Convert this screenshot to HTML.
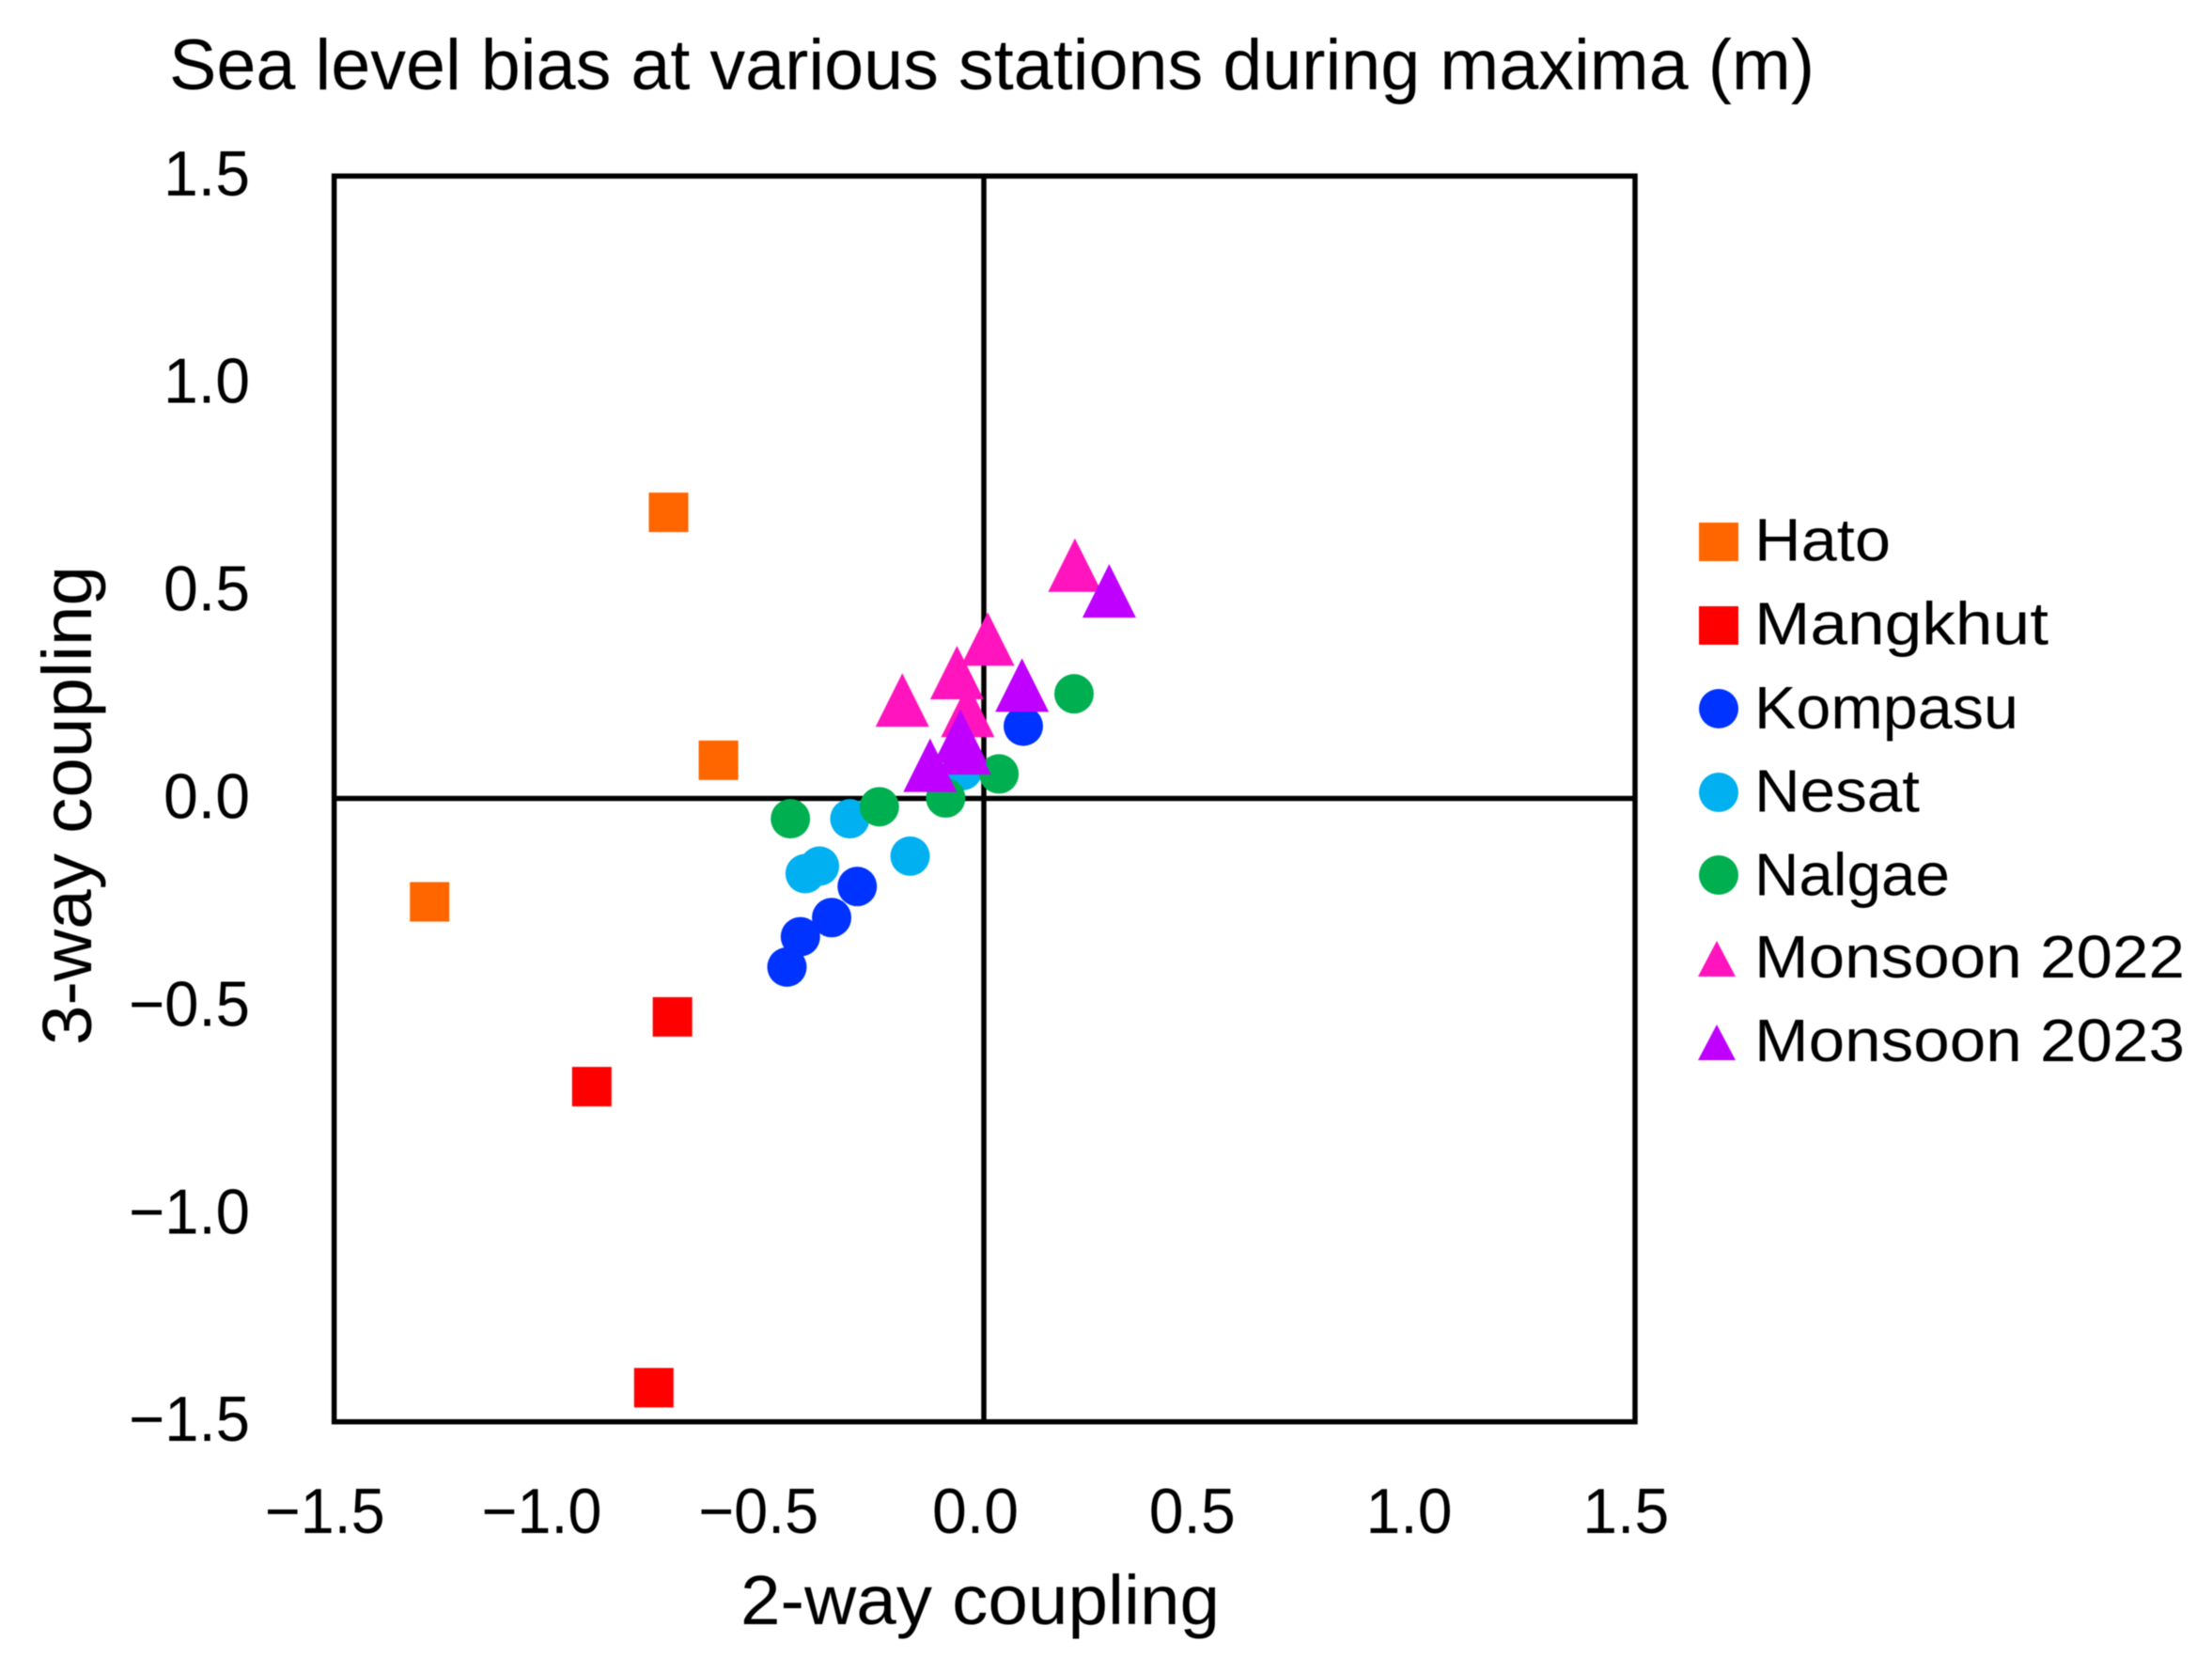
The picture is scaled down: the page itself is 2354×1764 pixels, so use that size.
<!DOCTYPE html>
<html lang="en">
<head>
<meta charset="utf-8">
<title>Sea level bias at various stations during maxima (m)</title>
<style>
  html, body { margin: 0; padding: 0; background: #ffffff; }
  svg { display: block; filter: blur(0.6px); }
  text { font-family: "Liberation Sans", sans-serif; fill: #000000; }
</style>
</head>
<body>
<svg id="chart" xmlns="http://www.w3.org/2000/svg" width="2354" height="1764" viewBox="0 0 2354 1764">
  <rect x="0" y="0" width="2354" height="1764" fill="#ffffff"/>
  <text x="180" y="95" font-size="76" textLength="1751" lengthAdjust="spacingAndGlyphs">Sea level bias at various stations during maxima (m)</text>

  <line x1="356" y1="849.5" x2="1740" y2="849.5" stroke="#000" stroke-width="5.5"/>
  <line x1="1047" y1="187" x2="1047" y2="1513" stroke="#000" stroke-width="5.5"/>
  <rect x="355.6" y="187.3" width="1384.4" height="1325.4" fill="none" stroke="#000" stroke-width="5.5"/>

  <g id="x-ticks"></g>
  <g id="y-ticks"></g>
  <g id="marks"></g>

  <text x="788" y="1728" font-size="74" textLength="510" lengthAdjust="spacingAndGlyphs">2-way coupling</text>
  <text transform="translate(97 1112) rotate(-90)" x="0" y="0" font-size="74" textLength="510" lengthAdjust="spacingAndGlyphs">3-way coupling</text>

  <g>
    <g>
      <rect x="1808" y="556" width="42" height="41" fill="#FF6600"/>
      <text x="1867" y="596.7" font-size="64" textLength="145" lengthAdjust="spacingAndGlyphs">Hato</text>
    </g>
    <g>
      <rect x="1808" y="645" width="42" height="41" fill="#FF0000"/>
      <text x="1867" y="685.3" font-size="64" textLength="313" lengthAdjust="spacingAndGlyphs">Mangkhut</text>
    </g>
    <g>
      <ellipse cx="1829" cy="754" rx="21" ry="21" fill="#0033FF"/>
      <text x="1867" y="775" font-size="64" textLength="281" lengthAdjust="spacingAndGlyphs">Kompasu</text>
    </g>
    <g>
      <ellipse cx="1829" cy="843" rx="21" ry="21" fill="#00B0F0"/>
      <text x="1867" y="863.7" font-size="64" textLength="176" lengthAdjust="spacingAndGlyphs">Nesat</text>
    </g>
    <g>
      <ellipse cx="1829" cy="931" rx="21" ry="21" fill="#00B050"/>
      <text x="1867" y="952.7" font-size="64" textLength="208" lengthAdjust="spacingAndGlyphs">Nalgae</text>
    </g>
    <g>
      <polygon points="1827,1001 1847,1039 1807,1039" fill="#FF14BE"/>
      <text x="1867" y="1040" font-size="64" textLength="458" lengthAdjust="spacingAndGlyphs">Monsoon 2022</text>
    </g>
    <g>
      <polygon points="1827,1090 1847,1128 1807,1128" fill="#BF00FF"/>
      <text x="1867" y="1129" font-size="64" textLength="458" lengthAdjust="spacingAndGlyphs">Monsoon 2023</text>
    </g>
  </g>
</svg>

<script>
const tickValues = [-1.5, -1.0, -0.5, 0.0, 0.5, 1.0, 1.5];
const tickLabels = ["\u22121.5", "\u22121.0", "\u22120.5", "0.0", "0.5", "1.0", "1.5"];

const hatoX = [-0.727, -0.612, -1.278];
const hatoY = [0.689, 0.092, -0.249];
const mangkhutX = [-0.718, -0.904, -0.761];
const mangkhutY = [-0.526, -0.694, -1.419];
const kompasuX = [0.091, -0.292, -0.351, -0.423, -0.454];
const kompasuY = [0.174, -0.212, -0.287, -0.333, -0.406];
const nesatX = [-0.309, -0.170, -0.412, -0.379, -0.049];
const nesatY = [-0.049, -0.139, -0.181, -0.163, 0.067];
const nalgaeX = [-0.446, -0.241, -0.088, 0.035, 0.208];
const nalgaeY = [-0.049, -0.020, 0.001, 0.059, 0.252];
const monsoon2022X = [0.210, 0.009, -0.062, -0.188, -0.037];
const monsoon2022Y = [0.562, 0.384, 0.303, 0.237, 0.212];
const monsoon2023X = [0.289, 0.088, -0.054, -0.045, -0.124];
const monsoon2023Y = [0.500, 0.273, 0.150, 0.122, 0.080];

const NS = "http://www.w3.org/2000/svg";
function xScale(v) { return 1047 + v * 461.5; }
function yScale(v) { return 849.5 - v * 441.8; }

const xTickGroup = document.getElementById("x-ticks");
const yTickGroup = document.getElementById("y-ticks");
tickValues.forEach(function (v, i) {
  const label = tickLabels[i];
  const negative = v < 0;

  const xt = document.createElementNS(NS, "text");
  
  
  xt.setAttribute("x", xScale(v) - 9);
  xt.setAttribute("y", 1631);
  xt.setAttribute("font-size", "68");
  xt.setAttribute("text-anchor", "middle");
  xt.setAttribute("textLength", negative ? 128 : 92);
  xt.setAttribute("lengthAdjust", "spacingAndGlyphs");
  xt.textContent = label;
  xTickGroup.appendChild(xt);

  const yt = document.createElementNS(NS, "text");
  
  
  yt.setAttribute("x", 266);
  yt.setAttribute("y", yScale(v) + 21);
  yt.setAttribute("font-size", "68");
  yt.setAttribute("text-anchor", "end");
  yt.setAttribute("textLength", negative ? 129 : 92);
  yt.setAttribute("lengthAdjust", "spacingAndGlyphs");
  yt.textContent = label;
  yTickGroup.appendChild(yt);
});

const marks = document.getElementById("marks");

function drawSquares(xs, ys, color) {
  xs.forEach(function (xv, i) {
    const el = document.createElementNS(NS, "rect");
    
    
    el.setAttribute("x", xScale(xv) - 21);
    el.setAttribute("y", yScale(ys[i]) - 21);
    el.setAttribute("width", 42);
    el.setAttribute("height", 42);
    el.setAttribute("fill", color);
    marks.appendChild(el);
  });
}

function drawCircles(xs, ys, color) {
  xs.forEach(function (xv, i) {
    const el = document.createElementNS(NS, "circle");
    
    
    el.setAttribute("cx", xScale(xv));
    el.setAttribute("cy", yScale(ys[i]));
    el.setAttribute("r", 21);
    el.setAttribute("fill", color);
    marks.appendChild(el);
  });
}

function drawTriangles(xs, ys, color) {
  xs.forEach(function (xv, i) {
    const cx = xScale(xv);
    const cy = yScale(ys[i]);
    const el = document.createElementNS(NS, "polygon");
    
    
    el.setAttribute("points", cx + "," + (cy - 28.5) + " " + (cx + 28.5) + "," + (cy + 28.5) + " " + (cx - 28.5) + "," + (cy + 28.5));
    el.setAttribute("fill", color);
    marks.appendChild(el);
  });
}

drawSquares(hatoX, hatoY, "#FF6600");
drawSquares(mangkhutX, mangkhutY, "#FF0000");
drawCircles(kompasuX, kompasuY, "#0033FF");
drawCircles(nesatX, nesatY, "#00B0F0");
drawCircles(nalgaeX, nalgaeY, "#00B050");
drawTriangles(monsoon2022X, monsoon2022Y, "#FF14BE");
drawTriangles(monsoon2023X, monsoon2023Y, "#BF00FF");
</script>
</body>
</html>
